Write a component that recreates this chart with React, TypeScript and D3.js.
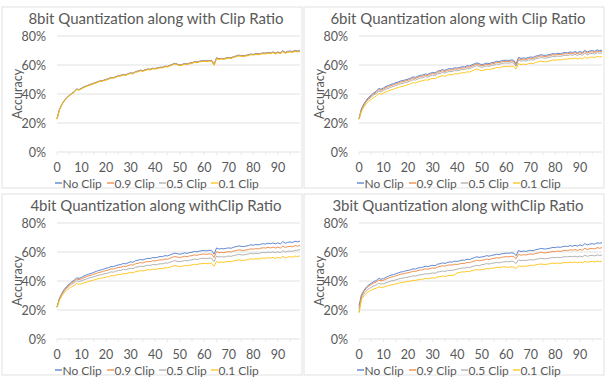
import React from "react";
import * as d3 from "d3";

// x = epoch index 0..99, y = accuracy in %
const epochs = d3.range(100);
const xTickLabels = [0, 10, 20, 30, 40, 50, 60, 70, 80, 90];
const yTickLabels = [0, 20, 40, 60, 80];
const seriesNames = ["No Clip", "0.9 Clip", "0.5 Clip", "0.1 Clip"];
const colors = ["#4472C4", "#ED7D31", "#A5A5A5", "#FFC000"];
const titles = [
  "8bit Quantization along with Clip Ratio",
  "6bit Quantization along with Clip Ratio",
  "4bit Quantization along withClip Ratio",
  "3bit Quantization along withClip Ratio",
];

const bit8NoClip = [
  23, 29.5, 33, 35.5, 37.5, 39, 40.5, 41.5, 43.5, 43,
  44, 45, 45.5, 46.3, 46.8, 47.5, 48, 48.8, 49, 49.5,
  50, 50.6, 51.5, 51.2, 52, 52.6, 52.8, 53.5, 53.2, 54,
  54.6, 54.2, 55.5, 55.8, 56.5, 56, 56.8, 57.2, 57, 57.8,
  57.6, 58, 58.5, 58.4, 59.2, 59, 59.8, 60.5, 61.2, 60.5,
  60, 60.4, 61, 60.6, 61.3, 61.5, 62.3, 62, 62.6, 62.9,
  63, 62.8, 63.2, 63, 60.5, 65, 64.2, 64.6, 64.3, 64.9,
  65.2, 65, 65.8, 66.2, 66.8, 66.5, 66.3, 66.7, 67, 67.6,
  67.3, 67.8, 67.5, 68, 68.3, 68.1, 68.7, 68.3, 69, 68.2,
  69, 68.3, 69.8, 68.6, 69.4, 69.6, 69.2, 70.1, 69.6, 70,
];
const bit8Clip09 = [
  23, 29.3, 32.8, 35.6, 37.3, 39.1, 40.3, 41.6, 43.2, 43.1,
  43.8, 44.9, 45.6, 46.1, 46.9, 47.3, 48.1, 48.6, 49.1, 49.3,
  50.1, 50.4, 51.3, 51.3, 51.8, 52.5, 52.9, 53.3, 53.3, 53.8,
  54.4, 54.3, 55.3, 55.6, 56.3, 56.1, 56.6, 57, 57.1, 57.6,
  57.5, 58.1, 58.3, 58.5, 59, 59.1, 59.6, 60.3, 61, 60.6,
  59.8, 60.3, 60.8, 60.7, 61.1, 61.6, 62.1, 62.1, 62.4, 62.7,
  62.9, 62.6, 63, 62.9, 60.2, 64.8, 64.3, 64.4, 64.4, 64.7,
  65, 65.1, 65.6, 66, 66.6, 66.4, 66.4, 66.5, 66.9, 67.4,
  67.2, 67.6, 67.6, 67.8, 68.1, 68.2, 68.5, 68.4, 68.8, 68.3,
  68.8, 68.4, 69.5, 68.7, 69.2, 69.4, 69.3, 69.8, 69.5, 69.8,
];
const bit8Clip05 = [
  22.8, 29.2, 32.9, 35.3, 37.4, 38.8, 40.4, 41.3, 43.3, 42.8,
  43.9, 44.7, 45.4, 46.2, 46.6, 47.4, 47.8, 48.7, 48.8, 49.4,
  49.8, 50.5, 51.2, 51.1, 51.9, 52.4, 52.6, 53.4, 53, 53.9,
  54.3, 54.1, 55.3, 55.5, 56.3, 55.8, 56.6, 57.1, 56.8, 57.6,
  57.4, 57.8, 58.4, 58.2, 59.1, 58.8, 59.6, 60.3, 61, 60.3,
  59.8, 60.2, 60.9, 60.4, 61.1, 61.3, 62.1, 61.8, 62.4, 62.7,
  62.8, 62.6, 63, 62.8, 60, 64.7, 64, 64.4, 64.1, 64.7,
  65, 64.8, 65.6, 66, 66.5, 66.3, 66.1, 66.5, 66.8, 67.4,
  67.1, 67.6, 67.3, 67.8, 68.1, 67.9, 68.5, 68.1, 68.8, 68,
  68.8, 68.1, 69.5, 68.4, 69.2, 69.3, 69, 69.8, 69.4, 69.7,
];
const bit8Clip01 = [
  22.5, 29, 32.6, 35.1, 37.1, 38.6, 40.1, 41.1, 43, 42.7,
  43.6, 44.5, 45.2, 45.9, 46.4, 47.1, 47.6, 48.4, 48.7, 49.1,
  49.6, 50.2, 51, 50.9, 51.6, 52.2, 52.4, 53.1, 52.8, 53.6,
  54.1, 53.8, 55, 55.3, 56, 55.6, 56.3, 56.8, 56.6, 57.3,
  57.2, 57.5, 58, 58, 58.7, 58.6, 59.3, 60, 60.7, 60.1,
  59.5, 59.9, 60.5, 60.2, 60.8, 61, 61.8, 61.5, 62.1, 62.4,
  62.5, 62.3, 62.7, 62.5, 59.8, 64.4, 63.7, 64.1, 63.8, 64.4,
  64.7, 64.5, 65.3, 65.7, 66.2, 66, 65.8, 66.2, 66.5, 67.1,
  66.8, 67.3, 67, 67.5, 67.8, 67.6, 68.2, 67.8, 68.5, 67.6,
  68.4, 67.7, 69.1, 68, 68.8, 68.9, 68.6, 69.4, 69, 69.2,
];

const bit6NoClip = [
  23, 29.8, 33.2, 35.8, 37.8, 39.3, 40.8, 41.8, 43.8, 43.3,
  44.2, 45.3, 45.8, 46.6, 47.1, 47.8, 48.3, 49, 49.3, 49.8,
  50.3, 50.9, 51.8, 51.5, 52.3, 52.9, 53.1, 53.8, 53.5, 54.3,
  54.9, 54.5, 55.8, 56.1, 56.8, 56.3, 57.1, 57.5, 57.3, 58.1,
  57.9, 58.3, 58.8, 58.7, 59.5, 59.3, 60.1, 60.8, 61.5, 60.8,
  60.3, 60.7, 61.3, 60.9, 61.6, 61.8, 62.6, 62.3, 62.9, 63.2,
  63.3, 63.1, 63.5, 63.3, 60.8, 65.3, 64.5, 64.9, 64.6, 65.2,
  65.5, 65.3, 66.1, 66.5, 67.1, 66.8, 66.6, 67, 67.3, 67.9,
  67.6, 68.1, 67.8, 68.3, 68.6, 68.4, 69, 68.6, 69.3, 68.5,
  69.3, 68.6, 70.1, 68.9, 69.7, 69.9, 69.5, 70.4, 69.9, 70.3,
];
const bit6Clip09 = [
  23, 29.5, 32.8, 35.3, 37.3, 38.7, 40.2, 41.1, 43, 42.6,
  43.4, 44.5, 45, 45.8, 46.3, 47, 47.5, 48.2, 48.5, 49,
  49.5, 50.1, 51, 50.7, 51.5, 52.1, 52.3, 53, 52.7, 53.5,
  54.1, 53.7, 55, 55.3, 56, 55.5, 56.3, 56.7, 56.5, 57.3,
  57.1, 57.5, 58, 57.9, 58.7, 58.5, 59.3, 60, 60.7, 60,
  59.5, 59.9, 60.5, 60.1, 60.8, 61, 61.8, 61.5, 62.1, 62.4,
  62.5, 62.3, 62.7, 62.5, 60, 64.5, 63.7, 64.1, 63.8, 64.4,
  64.7, 64.5, 65.3, 65.7, 66.3, 66, 65.8, 66.2, 66.5, 67.1,
  66.8, 67.3, 67, 67.5, 67.8, 67.6, 68.2, 67.8, 68.5, 67.7,
  68.5, 67.8, 69.3, 68.1, 68.9, 69.1, 68.7, 69.6, 69.1, 69.5,
];
const bit6Clip05 = [
  22.8, 29, 32.2, 34.6, 36.5, 37.9, 39.3, 40.2, 42, 41.7,
  42.4, 43.4, 43.9, 44.7, 45.2, 45.9, 46.4, 47.1, 47.4, 47.9,
  48.4, 49, 49.9, 49.6, 50.4, 51, 51.2, 51.9, 51.6, 52.4,
  53, 52.6, 53.9, 54.2, 54.9, 54.4, 55.2, 55.6, 55.4, 56.2,
  56, 56.4, 56.9, 56.8, 57.6, 57.4, 58.2, 58.9, 59.6, 58.9,
  58.4, 58.8, 59.4, 59, 59.7, 59.9, 60.7, 60.4, 61, 61.3,
  61.4, 61.2, 61.6, 61.4, 59, 63.4, 62.6, 63, 62.7, 63.3,
  63.6, 63.4, 64.2, 64.6, 65.2, 64.9, 64.7, 65.1, 65.4, 66,
  65.7, 66.2, 65.9, 66.4, 66.7, 66.5, 67.1, 66.7, 67.4, 66.6,
  67.4, 66.7, 68.2, 67, 67.8, 68, 67.6, 68.5, 68, 68.4,
];
const bit6Clip01 = [
  22.5, 28, 31, 33.3, 35, 36.3, 37.6, 38.5, 40.2, 40,
  40.6, 41.5, 42, 42.8, 43.3, 44, 44.4, 45.1, 45.4, 45.9,
  46.4, 47, 47.8, 47.6, 48.3, 48.9, 49.1, 49.8, 49.5, 50.3,
  50.8, 50.5, 51.7, 52, 52.7, 52.2, 53, 53.4, 53.2, 54,
  53.8, 54.2, 54.7, 54.6, 55.3, 55.1, 55.9, 56.6, 57.2, 56.6,
  56.1, 56.5, 57.1, 56.7, 57.4, 57.6, 58.3, 58, 58.6, 58.9,
  59, 58.8, 59.2, 59, 57.2, 61, 60.3, 60.6, 60.3, 60.9,
  61.2, 61, 61.8, 62.2, 62.7, 62.4, 62.2, 62.6, 62.9, 63.5,
  63.2, 63.7, 63.4, 63.9, 64.2, 64, 64.6, 64.2, 64.9, 64.1,
  64.9, 64.2, 65.6, 64.5, 65.3, 65.5, 65.1, 66, 65.5, 65.8,
];

const bit4NoClip = [
  22, 28, 31.5, 34.3, 36.3, 38, 39.4, 40.5, 42.2, 41.8,
  42.5, 43.5, 44.1, 44.8, 45.3, 46, 46.6, 47.3, 47.6, 48.2,
  48.8, 49.2, 50, 49.9, 50.6, 51.1, 51.3, 52.1, 51.8, 52.6,
  53.2, 52.9, 54, 54.3, 54.9, 54.5, 55.2, 55.6, 55.5, 56.2,
  56, 56.4, 56.9, 56.8, 57.5, 57.3, 58, 58.6, 59.2, 58.8,
  58.5, 58.8, 59.4, 59, 59.6, 59.8, 60.4, 60.1, 60.6, 60.9,
  61, 60.8, 61.2, 61, 58.5, 62.8, 62, 62.4, 62.1, 62.6,
  62.8, 62.6, 63.3, 63.7, 64.2, 63.9, 63.7, 64.1, 64.4, 65,
  64.7, 65.2, 64.9, 65.4, 65.7, 65.5, 66.1, 65.7, 66.3, 65.6,
  66.3, 65.6, 67.2, 66, 66.7, 66.9, 66.6, 67.4, 67, 67.5,
];
const bit4Clip09 = [
  22, 27.8, 31.2, 33.9, 35.8, 37.4, 38.8, 39.8, 41.3, 41,
  41.5, 42.4, 43, 43.6, 44.1, 44.7, 45.2, 45.9, 46.2, 46.7,
  47.2, 47.6, 48.4, 48.2, 48.9, 49.3, 49.5, 50.2, 49.9, 50.7,
  51.2, 50.9, 51.9, 52.2, 52.8, 52.4, 53.1, 53.4, 53.3, 54,
  53.8, 54.2, 54.6, 54.5, 55.2, 55, 55.7, 56.3, 56.9, 56.5,
  56.2, 56.5, 57.1, 56.7, 57.3, 57.5, 58, 57.7, 58.2, 58.5,
  58.6, 58.4, 58.7, 58.5, 56.2, 60.2, 59.5, 59.8, 59.5, 60,
  60.2, 60, 60.7, 61, 61.5, 61.2, 61, 61.4, 61.7, 62.2,
  61.9, 62.4, 62.1, 62.6, 62.9, 62.7, 63.2, 62.8, 63.4, 62.7,
  63.4, 62.7, 64.2, 63.1, 63.7, 63.9, 63.6, 64.4, 64, 64.5,
];
const bit4Clip05 = [
  22, 27.5, 30.7, 33.2, 35, 36.5, 37.8, 38.7, 40.1, 39.7,
  40.1, 40.9, 41.4, 42, 42.4, 43, 43.5, 44.1, 44.3, 44.8,
  45.2, 45.6, 46.3, 46.1, 46.8, 47.2, 47.3, 48, 47.7, 48.4,
  48.8, 48.5, 49.5, 49.7, 50.3, 49.9, 50.5, 50.9, 50.7, 51.4,
  51.2, 51.5, 51.9, 51.8, 52.5, 52.3, 52.9, 53.5, 54, 53.6,
  53.4, 53.6, 54.2, 53.8, 54.4, 54.6, 55.1, 54.8, 55.3, 55.6,
  55.7, 55.5, 55.8, 55.6, 53.4, 57.2, 56.5, 56.8, 56.5, 57,
  57.2, 57, 57.6, 57.9, 58.4, 58.1, 57.9, 58.3, 58.6, 59.1,
  58.8, 59.2, 58.9, 59.4, 59.7, 59.5, 60, 59.6, 60.2, 59.5,
  60.2, 59.5, 61, 59.9, 60.5, 60.7, 60.4, 61.2, 61.2, 61.7,
];
const bit4Clip01 = [
  21.8, 26.8, 29.8, 32, 33.6, 35, 36.1, 36.9, 38.2, 37.8,
  38, 38.8, 39.2, 39.8, 40.2, 40.7, 41.1, 41.7, 41.9, 42.3,
  42.7, 43, 43.7, 43.5, 44.1, 44.4, 44.5, 45.2, 44.9, 45.5,
  45.9, 45.6, 46.5, 46.7, 47.2, 46.9, 47.4, 47.8, 47.6, 48.2,
  48, 48.3, 48.7, 48.6, 49.2, 49, 49.6, 50.1, 50.6, 50.2,
  50, 50.2, 50.7, 50.4, 50.9, 51.1, 51.6, 51.3, 51.8, 52,
  52.1, 51.9, 52.3, 52.1, 50.2, 53.5, 52.8, 53.1, 52.9, 53.3,
  53.5, 53.3, 53.9, 54.2, 54.6, 54.3, 54.2, 54.5, 54.8, 55.3,
  55, 55.4, 55.1, 55.6, 55.9, 55.7, 56.1, 55.8, 56.3, 55.6,
  56.3, 55.7, 57, 56, 56.5, 56.8, 56.4, 57.2, 56.9, 57.3,
];

const bit3NoClip = [
  23, 30.5, 33.5, 35.8, 37.3, 38.5, 39.5, 40.3, 41.8, 41.2,
  41.6, 42.5, 43.3, 44, 44.4, 45, 45.6, 46.2, 46.4, 47,
  47.3, 47.7, 48.4, 48.2, 48.9, 49.3, 49.5, 50.2, 49.9, 50.4,
  50.8, 50.5, 51.6, 51.9, 52.5, 52.1, 52.8, 53.2, 53, 53.7,
  53.5, 53.9, 54.4, 54.3, 55, 54.8, 55.5, 56.1, 56.7, 56.3,
  56.6, 56.9, 57.5, 57.1, 57.7, 57.9, 58.5, 58.2, 58.7, 59,
  59.2, 59.1, 59.4, 59.3, 57.5, 61, 60.3, 60.7, 60.4, 60.9,
  61.1, 60.9, 61.6, 61.9, 62.5, 62.2, 62, 62.4, 62.7, 63.2,
  63, 63.5, 63.2, 63.7, 64, 63.8, 64.4, 64, 64.6, 64.1,
  64.9, 64.3, 65.8, 64.8, 65.5, 65.7, 65.4, 66.3, 66, 66.4,
];
const bit3Clip09 = [
  21, 29.8, 32.8, 35, 36.5, 37.6, 38.6, 39.3, 40.6, 40.2,
  40.5, 41.3, 42, 42.6, 43, 43.6, 44.1, 44.7, 44.9, 45.4,
  45.7, 46.1, 46.8, 46.6, 47.2, 47.6, 47.8, 48.4, 48.1, 48.6,
  49, 48.7, 49.7, 50, 50.5, 50.2, 50.8, 51.1, 51, 51.6,
  51.4, 51.8, 52.2, 52.1, 52.8, 52.6, 53.2, 53.8, 54.3, 53.9,
  54.3, 54.6, 55.1, 54.8, 55.3, 55.5, 56.1, 55.8, 56.3, 56.6,
  56.8, 56.6, 57, 56.9, 55.3, 58.5, 57.8, 58.2, 57.9, 58.4,
  58.6, 58.4, 59, 59.3, 59.8, 59.5, 59.4, 59.7, 60, 60.5,
  60.3, 60.7, 60.4, 60.9, 61.2, 61, 61.5, 61.2, 61.7, 61.1,
  61.8, 61.2, 62.6, 61.7, 62.3, 62.5, 62.1, 63, 62.6, 63,
];
const bit3Clip05 = [
  18.5, 28.5, 31.3, 33.3, 34.7, 35.7, 36.6, 37.2, 38.4, 37.9,
  38.1, 38.8, 39.4, 40, 40.3, 40.8, 41.3, 41.8, 42, 42.4,
  42.7, 43, 43.6, 43.4, 44, 44.3, 44.5, 45, 44.8, 45.2,
  45.6, 45.3, 46.2, 46.4, 46.9, 46.6, 47.1, 47.4, 47.3, 47.8,
  48.2, 48.6, 49, 48.9, 49.5, 49.3, 49.9, 50.4, 50.8, 50.5,
  51.3, 51.5, 52, 51.7, 52.2, 52.4, 52.8, 52.5, 53, 53.2,
  53.4, 53.2, 53.6, 53.4, 52, 54.6, 54, 54.3, 54.1, 54.5,
  54.7, 54.5, 55, 55.2, 55.7, 55.4, 55.3, 55.6, 55.9, 56.3,
  56.1, 56.4, 56.1, 56.5, 56.8, 56.6, 57, 56.7, 57.1, 56.6,
  57.2, 56.7, 57.8, 57, 57.5, 57.7, 57.3, 58, 57.7, 57.9,
];
const bit3Clip01 = [
  18, 27.3, 29.8, 31.6, 32.8, 33.7, 34.5, 35, 36, 35.6,
  35.7, 36.3, 36.8, 37.3, 37.6, 38, 38.4, 38.9, 39, 39.4,
  39.7, 40, 40.5, 40.3, 40.8, 41.1, 41.3, 41.8, 41.5, 41.9,
  42.2, 42, 42.8, 43, 43.4, 43.1, 43.6, 43.9, 43.8, 44.2,
  45.6, 45.9, 46.3, 46.2, 46.7, 46.5, 47.1, 47.5, 47.9, 47.6,
  47.9, 48.1, 48.6, 48.3, 48.8, 48.9, 49.4, 49.2, 49.6, 49.8,
  49.6, 49.4, 49.8, 49.6, 48.5, 50.6, 50, 50.3, 50.1, 50.5,
  50.9, 50.7, 51.2, 51.4, 51.8, 51.5, 51.4, 51.7, 52, 52.3,
  52.1, 52.4, 52.1, 52.5, 52.8, 52.6, 53, 52.7, 53.1, 52.6,
  53.1, 52.6, 53.6, 52.9, 53.3, 53.5, 53.1, 53.7, 53.4, 53.6,
];

const panels = [
  { ox: 0, oy: 0, title: titles[0], series: [bit8NoClip, bit8Clip09, bit8Clip05, bit8Clip01] },
  { ox: 302, oy: 0, title: titles[1], series: [bit6NoClip, bit6Clip09, bit6Clip05, bit6Clip01] },
  { ox: 0, oy: 187, title: titles[2], series: [bit4NoClip, bit4Clip09, bit4Clip05, bit4Clip01] },
  { ox: 302, oy: 187, title: titles[3], series: [bit3NoClip, bit3Clip09, bit3Clip05, bit3Clip01] },
];

const FONT = "Lato, 'Open Sans', sans-serif";
const TEXT = "#595959";

function Panel({ ox, oy, title, series }) {
  const left = ox + 57, right = ox + 300;
  const top = oy + 36, bottom = oy + 152;
  const x = d3.scaleLinear().domain([0, 99]).range([left, right]);
  const y = d3.scaleLinear().domain([0, 80]).range([bottom, top]);
  const line = d3.line<number>().x((d, i) => x(epochs[i])).y(d => y(d));
  const legend = d3.scaleBand().domain(seriesNames).range([ox + 55, ox + 263]);

  return (
    <g>
      <rect x={ox + 2} y={oy + 7} width={300} height={181} fill="#fff" stroke="#D9D9D9" strokeWidth={0.8} />
      <text x={ox + 156} y={oy + 18} textAnchor="middle" dominantBaseline="central"
        fontSize={15} fill={TEXT} fontFamily={FONT}>{title}</text>
      {yTickLabels.map(t => (
        <g key={t}>
          <line x1={left} x2={right} y1={y(t)} y2={y(t)} stroke="#D9D9D9" strokeWidth={0.8} />
          <text x={ox + 46} y={y(t)} textAnchor="end" dominantBaseline="central"
            fontSize={12.5} fill={TEXT} fontFamily={FONT}>{t}%</text>
        </g>
      ))}
      {d3.range(0, 100, 5).map(t => (
        <line key={t} x1={x(t)} x2={x(t)} y1={bottom} y2={bottom + 3} stroke="#E6E6E6" strokeWidth={0.8} />
      ))}
      {xTickLabels.map(t => (
        <text key={t} x={x(t)} y={oy + 167} textAnchor="middle" dominantBaseline="central"
          fontSize={12.5} fill={TEXT} fontFamily={FONT}>{t}</text>
      ))}
      <text transform={`translate(${ox + 17},${(top + bottom) / 2}) rotate(-90)`} textAnchor="middle"
        dominantBaseline="central" fontSize={12.5} fill={TEXT} fontFamily={FONT}>Accuracy</text>
      {series.map((s, i) => (
        <path key={i} d={line(s) || ""} fill="none" stroke={colors[i]} strokeWidth={1}
          strokeOpacity={0.85} strokeLinejoin="round" />
      ))}
      {seriesNames.map((n, i) => (
        <g key={n} transform={`translate(${legend(n)},${oy + 183})`}>
          <line x1={0} x2={7} y1={0} y2={0} stroke={colors[i]} strokeWidth={1.2} />
          <text x={7.5} y={0} dominantBaseline="central" fontSize={12} fill={TEXT} fontFamily={FONT}>{n}</text>
        </g>
      ))}
    </g>
  );
}

export default function App() {
  return (
    <svg width={607} height={379} style={{ position: "absolute", left: 0, top: 0, background: "#fff" }}>
      <rect width={607} height={379} fill="#fff" />
      {panels.map((p, i) => <Panel key={i} {...p} />)}
    </svg>
  );
}
